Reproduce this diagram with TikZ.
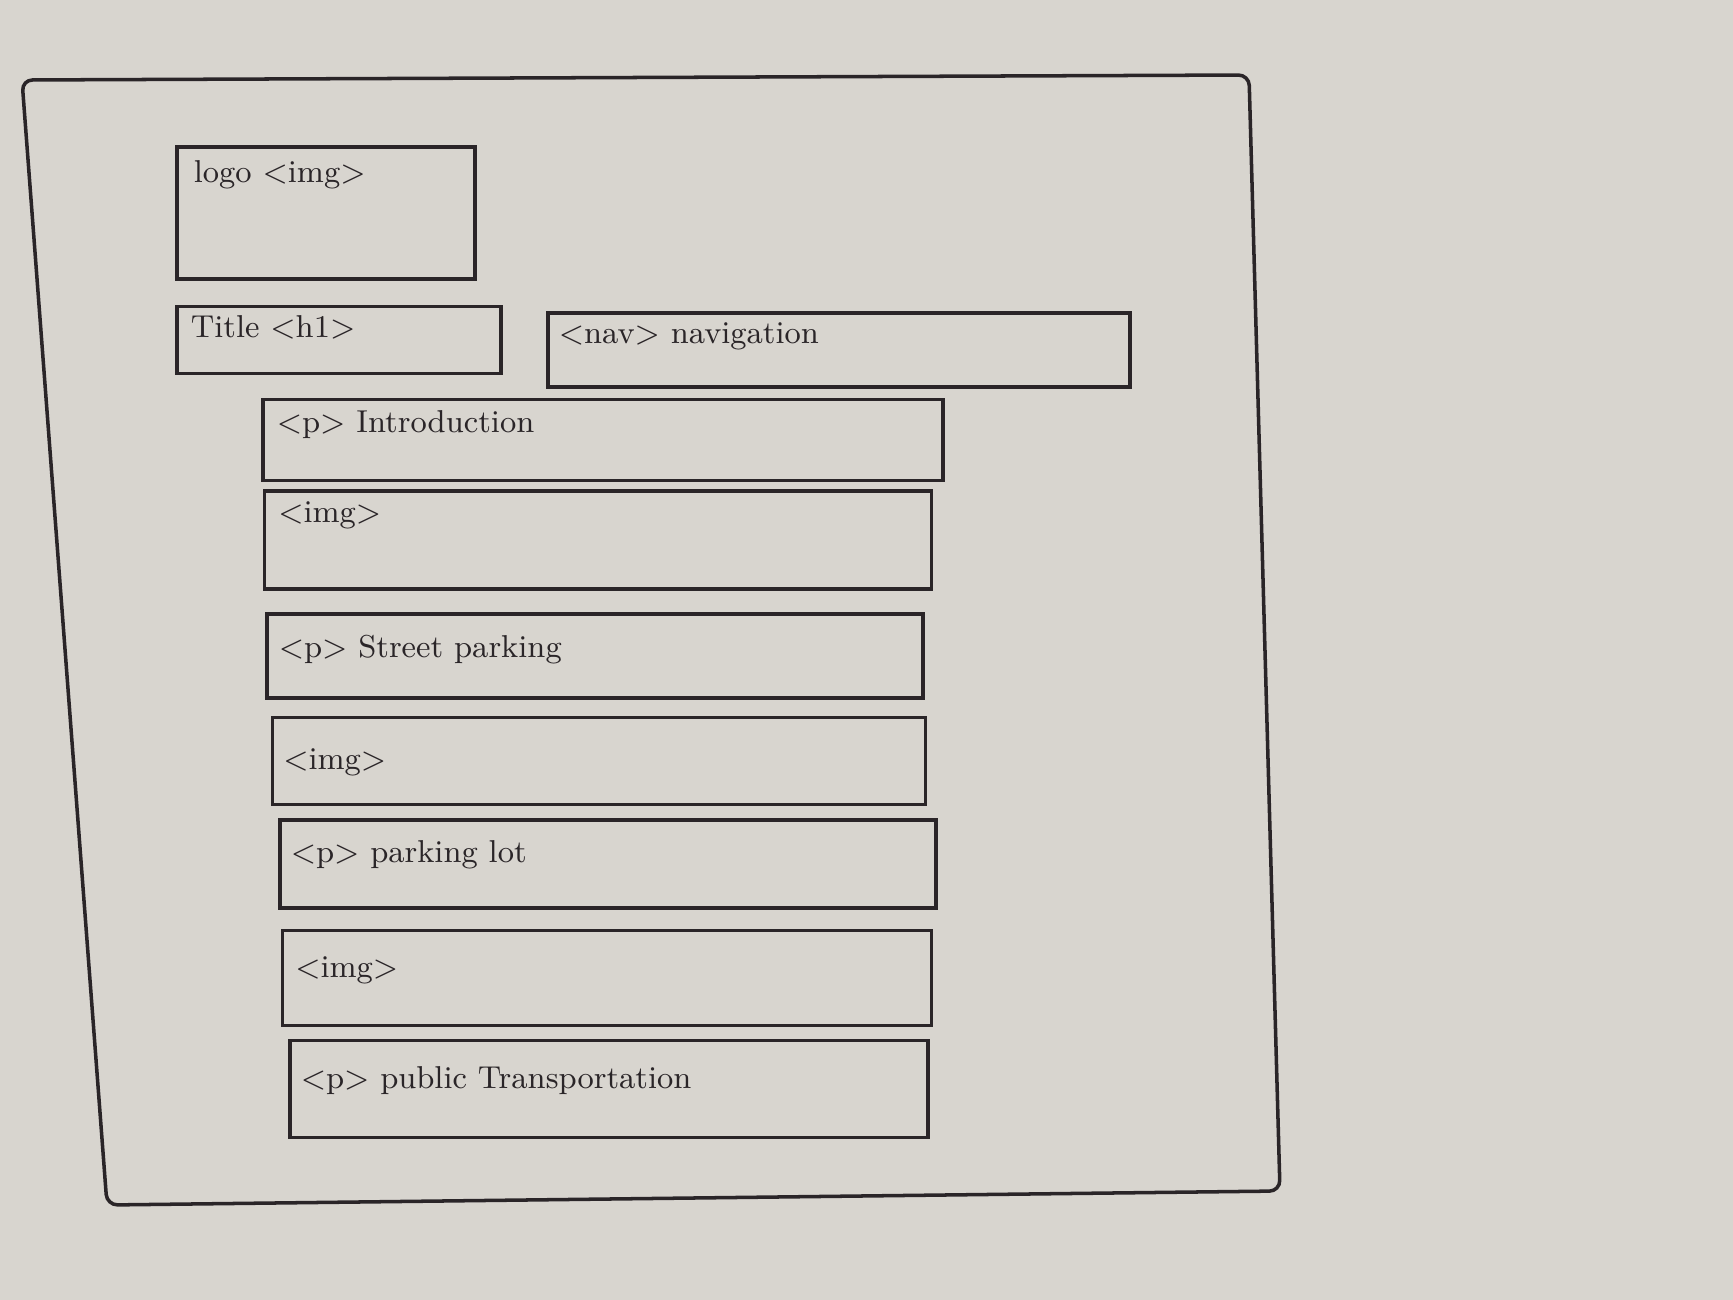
\documentclass[tikz,border=0pt]{standalone}
\usepackage{tikz}
\usetikzlibrary{positioning}

\definecolor{paper}{HTML}{D8D5CF}
\definecolor{ink}{HTML}{2A2528}

\tikzset{
  wirebox/.style={rectangle, draw=ink, line width=1pt, inner sep=0pt},
  tag/.style={text=ink, font=\small, inner sep=0pt}
}

\begin{document}
\begin{tikzpicture}[x=0.01cm, y=-0.01cm]
  \useasboundingbox[fill=paper] (0,0) rectangle (1733,1300);

  % page frame
  \coordinate (fNW) at (22,80);
  \coordinate (fNE) at (1249,75);
  \coordinate (fSE) at (1280,1191);
  \coordinate (fSW) at (107,1205);
  \draw[ink, line width=1pt, rounded corners=3pt] (fNW) -- (fNE) -- (fSE) -- (fSW) -- cycle;

  \node(logo)[wirebox, minimum width=2.98cm, minimum height=1.32cm] at (326,213) {};
  \node(logotxt)[tag, below right=1.5mm and 1.8mm of logo.north west]{logo \textless img\textgreater};

  \node(title)[wirebox, minimum width=3.24cm, minimum height=0.67cm] at (339,340) {};
  \node(titletxt)[tag, below right=1mm and 1.5mm of title.north west]{Title \textless h1\textgreater};

  \node(nav)[wirebox, minimum width=5.82cm, minimum height=0.74cm] at (839,350) {};
  \node(navtxt)[tag, below right=1.1mm and 1.2mm of nav.north west]{\textless nav\textgreater\ navigation};

  \node(intro)[wirebox, minimum width=6.80cm, minimum height=0.81cm] at (603,440) {};
  \node(introtxt)[tag, below right=1.2mm and 1.5mm of intro.north west]{\textless p\textgreater\ Introduction};

  \node(img1)[wirebox, minimum width=6.67cm, minimum height=0.98cm] at (598,540) {};
  \node(img1txt)[tag, below right=1.2mm and 1.5mm of img1.north west]{\textless img\textgreater};

  \node(street)[wirebox, minimum width=6.56cm, minimum height=0.84cm] at (595,656) {};
  \node(streettxt)[tag, below right=2.2mm and 1.3mm of street.north west]{\textless p\textgreater\ Street parking};

  \node(img2)[wirebox, minimum width=6.53cm, minimum height=0.87cm] at (599,761) {};
  \node(img2txt)[tag, below right=3.2mm and 1.2mm of img2.north west]{\textless img\textgreater};

  \node(lot)[wirebox, minimum width=6.56cm, minimum height=0.88cm] at (608,864) {};
  \node(lottxt)[tag, below right=2.2mm and 1.2mm of lot.north west]{\textless p\textgreater\ parking lot};

  \node(img3)[wirebox, minimum width=6.49cm, minimum height=0.95cm] at (607,978) {};
  \node(img3txt)[tag, below right=2.7mm and 1.4mm of img3.north west]{\textless img\textgreater};

  \node(public)[wirebox, minimum width=6.38cm, minimum height=0.97cm] at (609,1089) {};
  \node(publictxt)[tag, below right=2.7mm and 1.2mm of public.north west]{\textless p\textgreater\ public Transportation};

\end{tikzpicture}
\end{document}
